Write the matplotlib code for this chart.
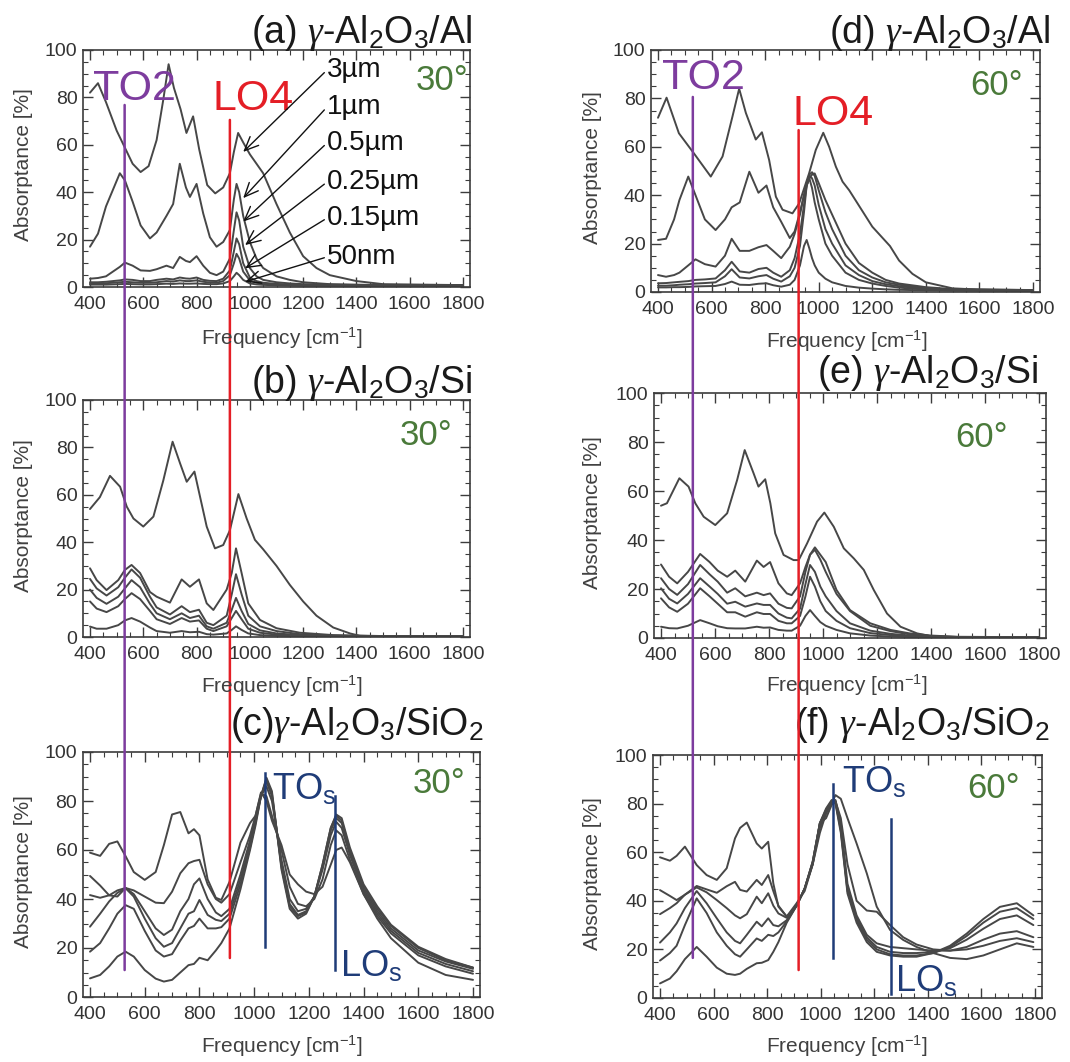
import matplotlib
matplotlib.use('Agg')
import matplotlib.pyplot as plt
from matplotlib.patches import ConnectionPatch
from matplotlib.transforms import blended_transform_factory
from matplotlib.ticker import MultipleLocator

plt.rcParams['font.family'] = ['Liberation Sans', 'DejaVu Sans']
plt.rcParams['mathtext.fontset'] = 'custom'
plt.rcParams['mathtext.rm'] = 'Liberation Sans'
plt.rcParams['mathtext.it'] = 'Liberation Serif:italic'
plt.rcParams['mathtext.bf'] = 'Liberation Sans:bold'

# ---------------- data ----------------
THICKNESS = ['3µm', '1µm', '0.5µm', '0.25µm', '0.15µm', '50nm']

# (a) gamma-Al2O3/Al, 30 deg
A_FREQ_THICK = [400, 430, 460, 500, 530, 560, 590, 620, 650, 675, 695, 715, 740, 762, 787, 810, 840, 870, 900, 925,
                940, 956, 975, 1000, 1025, 1050, 1100, 1150, 1200, 1250, 1300, 1400, 1500, 1800]
A_3UM = [82, 86, 78, 66, 59, 52, 48.5, 51, 62, 79, 94, 84, 75, 65, 72, 58, 43, 39.5, 42, 48,
         57, 65, 61, 56, 52, 48, 35, 23, 13, 8, 5, 2.5, 1.2, 0.8]
A_FREQ_THIN = [400, 430, 460, 512, 531, 560, 590, 625, 650, 687, 712, 737, 760, 775, 800, 825, 850, 875, 900, 925,
               940, 950, 960, 975, 1000, 1025, 1050, 1100, 1150, 1200, 1300, 1400, 1500, 1800]
A_1UM = [17, 22.5, 34, 48, 45, 36, 26, 20.5, 23, 30, 35, 52, 42, 38, 43.5, 31, 21, 17, 19, 24,
         37, 43.5, 40, 30, 19, 12, 8, 4.5, 3, 2, 1.2, 1, 0.8, 0.7]
A_05UM = [3.5, 3.8, 4.5, 8.5, 10.3, 9, 7, 6.8, 7.5, 9, 8, 12.7, 11, 10.5, 13, 9, 6, 5, 6.5, 12,
          24, 31.5, 28, 17, 8, 4.5, 3, 2, 1.5, 1.2, 1, 0.8, 0.7, 0.6]
A_025UM = [2, 2, 2.2, 2.8, 3.2, 3, 2.5, 2.5, 3, 3.5, 3.2, 4, 3.6, 3.5, 4, 3, 2.6, 2.5, 3.5, 7,
           15, 20.5, 18, 10, 4, 2.5, 1.8, 1.3, 1, 0.8, 0.7, 0.6, 0.6, 0.5]
A_015UM = [1.5, 1.5, 1.6, 2, 2.2, 2, 1.8, 1.8, 2, 2.5, 2.3, 2.8, 2.5, 2.5, 2.8, 2.2, 1.9, 1.8, 2.5, 5,
           10, 14, 12, 6.5, 2.8, 1.8, 1.3, 1, 0.8, 0.7, 0.6, 0.5, 0.5, 0.5]
A_50NM = [1, 1, 1, 1.2, 1.3, 1.2, 1.1, 1.1, 1.2, 1.4, 1.3, 1.5, 1.4, 1.4, 1.5, 1.3, 1.2, 1.2, 1.5, 2.5,
          4.5, 6, 5, 3, 1.5, 1.1, 0.9, 0.7, 0.6, 0.5, 0.5, 0.5, 0.5, 0.5]

# (b) gamma-Al2O3/Si, 30 deg
B_FREQ_THICK = [400, 437, 475, 513, 538, 563, 600, 638, 675, 710, 738, 763, 792, 813, 838, 869, 900, 925, 957, 988,
                1019, 1050, 1100, 1150, 1200, 1250, 1313, 1376, 1413, 1500, 1800]
B_3UM = [54, 59, 68, 63.4, 55, 50, 46.6, 50.8, 66, 82.4, 73.3, 65.5, 69.8, 59.2, 46.6, 37.4, 38.8, 45, 60.3, 50,
         41, 37, 30, 22, 15, 9, 4, 1.5, 0.5, 0.3, 0.3]
B_FREQ_THIN = [400, 425, 462, 506, 531, 556, 588, 625, 650, 700, 744, 775, 809, 838, 863, 913, 932, 948, 969, 994,
               1038, 1100, 1188, 1313, 1500, 1800]
B_1UM = [29, 24, 19.8, 24, 28.3, 30.4, 27, 19, 17, 14.5, 24.3, 21.2, 24.3, 14.2, 11.4, 20, 27, 37.4, 27, 14.2,
         7.2, 3.7, 1.8, 0.8, 0.4, 0.3]
B_05UM = [24.5, 20.5, 17.5, 21, 25, 28.5, 25, 17, 12.5, 9.5, 13, 10.5, 11.5, 6, 5, 9, 18, 26.5, 18, 9,
          4.5, 2.5, 1.2, 0.6, 0.3, 0.3]
B_025UM = [20, 16.5, 14, 17, 20.5, 24, 21, 14, 10, 7.5, 10, 8, 9, 4.5, 3.5, 6, 11.5, 16.5, 11, 5.5,
           2.8, 1.5, 0.8, 0.4, 0.3, 0.3]
B_015UM = [15, 12, 10.5, 13, 16, 18.5, 16, 11, 7.5, 5.5, 8, 6.5, 7, 3.5, 2.5, 4.5, 8, 11, 7.5, 3.5,
           1.8, 1, 0.6, 0.3, 0.3, 0.3]
B_50NM = [4.4, 3.5, 3.5, 5, 7, 8, 6.5, 4, 2.5, 1.8, 2.5, 2, 2.2, 1.2, 1, 1.5, 3, 4.5, 3, 1.5,
          0.8, 0.5, 0.4, 0.3, 0.3, 0.3]

# (c) gamma-Al2O3/SiO2, 30 deg
C_FREQ = [400, 437, 470, 500, 530, 560, 600, 640, 670, 700, 730, 760, 780, 800, 830, 860, 880, 910, 950, 985,
          1005, 1025, 1045, 1065, 1100, 1130, 1160, 1190, 1220, 1250, 1280, 1300, 1320, 1350, 1400, 1450, 1500,
          1600, 1700, 1800]
C_3UM = [58.9, 57.6, 62.5, 63.5, 57.5, 51, 47.8, 51, 62, 74.5, 75.5, 66.8, 68.5, 66, 48, 40.5, 39.6, 47, 63, 71,
         74, 83.5, 80, 72, 62, 50, 46, 43, 42, 45, 54, 60, 61, 55, 42, 32, 24, 14, 9, 7]
C_1UM = [49.4, 45.5, 41.5, 41, 44.5, 43.5, 41, 38.5, 38.3, 43, 50.5, 54.6, 55.5, 56, 46, 40, 38.5, 42, 55, 66,
         74, 83, 82, 74, 60, 45, 38, 37, 40, 48, 62, 68, 66, 56, 42, 33, 26, 17, 12.5, 9.5]
C_05UM = [41.6, 40.5, 41.5, 43.5, 44.5, 42, 35, 28, 25.3, 27.5, 35, 40, 46, 48.4, 40, 34.5, 33, 36, 50, 64,
          73, 82, 86, 80, 56, 40, 35, 36, 41, 52, 66, 71.5, 69, 58, 43, 34, 27, 18, 13.5, 10.5]
C_025UM = [28.7, 34, 39, 42.5, 44.4, 41, 32, 24, 20.5, 22, 28, 34, 35, 39.6, 33.5, 31.5, 31, 34, 48, 62,
           72, 82, 88, 82, 54, 38, 33.5, 35, 41, 53, 68, 73, 71, 59, 44, 35, 28, 19, 14.5, 11.5]
C_015UM = [18.5, 22, 28, 34, 37.5, 36, 27, 19, 16.5, 17.5, 23, 28, 29, 32, 28, 28, 28.5, 32, 46, 61,
           71, 82, 89, 83, 53, 37, 33, 34.5, 41, 54, 69, 74, 72, 60, 45, 36, 29, 20, 15, 12]
C_50NM = [7.6, 9, 12.5, 16.5, 18.5, 16.5, 11, 7.5, 6.3, 7, 10, 13, 13.5, 16, 15, 19, 22, 28, 44, 60,
          70, 82, 89.5, 84, 52, 36, 32, 34, 41, 54, 69, 74.5, 73, 61, 46, 37, 29.5, 20.5, 15.5, 12]

# (d) gamma-Al2O3/Al, 60 deg
D_FREQ_THICK = [400, 432, 478, 534, 597, 641, 678, 703, 728, 765, 788, 815, 840, 865, 902, 927, 964, 989, 1017, 1039,
                1064, 1089, 1114, 1145, 1200, 1266, 1300, 1350, 1400, 1500, 1600, 1800]
D_3UM = [72, 80.3, 65.6, 57.3, 47.7, 56, 72.5, 84, 74, 63, 66, 54.5, 39.4, 34, 32.5, 36.6, 49, 58.7, 65.8, 60,
         51.8, 45.6, 42, 36.6, 27, 19, 13, 7.5, 4, 1.5, 1, 0.8]
D_FREQ_THIN = [400, 430, 460, 480, 513, 540, 575, 615, 650, 675, 705, 741, 775, 805, 830, 860, 892, 910, 930, 945,
               955, 965, 975, 985, 1000, 1025, 1050, 1100, 1150, 1200, 1250, 1300, 1400, 1500, 1800]
D_1UM = [21.5, 22, 30, 38, 47.7, 40, 30, 25.6, 30, 35, 37, 49.7, 41, 44, 35, 29, 22.3, 25, 33, 40,
         44, 47, 48.5, 49, 45, 38, 32, 20, 12, 8, 5, 3.5, 2, 1.2, 0.8]
D_05UM = [7, 6.3, 7, 8, 11, 13.5, 11.5, 10.5, 15, 22, 17, 17, 18.5, 19.4, 17, 14, 18.7, 24, 32, 40,
          45, 48.5, 49.5, 48, 42, 33, 26, 15, 9, 6, 4, 3, 1.5, 1, 0.7]
D_025UM = [3.6, 3.7, 4, 4.2, 4.5, 5, 5.2, 5.6, 9, 12.5, 8.5, 8, 9.5, 10, 8, 6.3, 9, 14, 24, 36,
           44, 48, 47, 44, 36, 26, 20, 11, 7, 4.5, 3.2, 2.4, 1.3, 0.9, 0.6]
D_015UM = [2.6, 2.6, 2.8, 3, 3.2, 3.5, 3.7, 4, 6.5, 9.4, 6, 5.6, 6.5, 7, 5.5, 4.3, 6.5, 10, 19, 33,
           44, 47, 43, 37, 30, 20, 15, 8, 5, 3.5, 2.5, 1.8, 1, 0.7, 0.5]
D_50NM = [1.9, 1.9, 2, 2, 2.1, 2.3, 2.4, 2.5, 3.3, 4.3, 3, 2.9, 3.4, 3.6, 2.8, 2.2, 3, 5, 11, 19,
          21.5, 18, 14, 11, 8, 5.5, 4, 2.5, 1.8, 1.4, 1.1, 0.9, 0.7, 0.6, 0.5]

# (e) gamma-Al2O3/Si, 60 deg
E_FREQ_THICK = [400, 422, 468, 502, 527, 558, 601, 645, 682, 710, 743, 761, 786, 805, 823, 854, 891, 910, 941, 978,
                1005, 1040, 1077, 1114, 1151, 1188, 1237, 1287, 1348, 1410, 1500, 1800]
E_3UM = [54, 55, 65.2, 61.8, 55, 49.5, 46.1, 50.9, 64.5, 76.7, 67.2, 61.8, 64.8, 55, 42.7, 33.9, 31.8, 31.8, 38.6, 47.5,
         51.2, 45.4, 36.6, 32.5, 27.8, 19.6, 10, 4.6, 1.9, 0.5, 0.3, 0.3]
E_FREQ_THIN = [400, 430, 460, 500, 545, 580, 610, 645, 675, 712, 755, 780, 804, 835, 866, 884, 915, 935, 952, 970,
               990, 1010, 1050, 1100, 1175, 1250, 1320, 1400, 1500, 1800]
E_1UM = [30, 25, 22.3, 27, 34.3, 31, 27.5, 25, 27.5, 23, 31.6, 29, 31, 22.3, 18.2, 17.5, 22.3, 29, 34, 37,
         34, 31, 19.6, 11.4, 6, 3.3, 1.9, 1, 0.5, 0.3]
E_05UM = [24.4, 20, 17.6, 22, 29.8, 26, 23, 18.5, 20.3, 17, 18.5, 17.5, 18.2, 14, 12.3, 12.1, 17, 27, 34, 36,
          32, 27, 18, 11, 5, 2.8, 1.5, 0.8, 0.4, 0.3]
E_025UM = [20.3, 16, 14.1, 18, 24.4, 21, 18, 14, 14.8, 12.8, 14.1, 13.5, 13.5, 10, 8.3, 8, 12, 22, 29.8, 27,
           21, 17, 11, 6, 3, 1.7, 1, 0.6, 0.3, 0.3]
E_015UM = [16.2, 12.5, 10.7, 14, 20.3, 17, 14, 10.5, 10.5, 8.7, 10.5, 9.8, 9.8, 7, 6, 6, 9, 17, 25, 21,
           15, 11, 7, 4, 2, 1.2, 0.7, 0.4, 0.3, 0.3]
E_50NM = [4.6, 4, 3.9, 5, 7.3, 6, 4.8, 4, 3.9, 3.9, 4.6, 4.2, 4.3, 3.3, 3, 3, 5, 9, 11.4, 9,
          6.5, 5, 3.3, 1.9, 1, 0.6, 0.4, 0.3, 0.3, 0.3]

# (f) gamma-Al2O3/SiO2, 60 deg
F_FREQ = [400, 437, 462, 493, 537, 574, 612, 649, 680, 699, 724, 761, 780, 804, 823, 842, 873, 910, 940, 970,
          997, 1020, 1041, 1055, 1075, 1100, 1134, 1172, 1209, 1259, 1308, 1358, 1420, 1483, 1545, 1607, 1669,
          1732, 1794]
F_3UM = [57.9, 56.5, 58.5, 62.3, 54.7, 50.6, 48.6, 53.4, 65.7, 70, 72.2, 63.6, 61.5, 64.3, 47.2, 37.6, 33.5, 39, 44, 55,
         68, 76, 80, 83.5, 82, 74, 63.6, 51.3, 37.6, 28, 23.9, 21, 18.5, 16.5, 16, 17.5, 20, 22.5, 21]
F_1UM = [44.4, 42, 40.3, 42.5, 46.1, 44.7, 43.3, 46, 47.8, 44.5, 43.8, 48.6, 46.5, 50.6, 44, 38, 33.5, 38, 45, 55,
         72, 74, 79.5, 81, 74, 55, 40, 36, 35.5, 30, 25, 22, 20, 19.5, 20, 21.5, 23.5, 24.6, 23]
F_05UM = [34.5, 37, 39, 42.5, 45.5, 43.5, 40.3, 37, 34, 32.8, 34.5, 41.7, 39, 43.1, 38, 34.8, 33, 38, 45, 55,
          70, 76, 80.5, 81.5, 72, 47, 34, 26, 22.5, 21, 20.5, 20, 19.5, 19.5, 21, 24, 26.5, 27.5, 25]
F_025UM = [22.8, 27, 30.7, 37, 44, 39, 32.8, 27, 23.5, 22.5, 26, 31.4, 29.5, 32.8, 30, 29.5, 32, 38, 45, 56,
           72, 77, 81, 81, 70, 45, 33, 25, 21, 19, 18.5, 18.5, 19, 20.5, 24, 28.5, 32.5, 34, 30]
F_015UM = [15.4, 18.5, 21.5, 30, 41, 35, 27, 21.5, 18, 17, 20, 24.5, 23.5, 26, 25.5, 27, 31.5, 38, 45, 56,
           72, 77.5, 81, 80.5, 69, 44, 32, 24, 20, 18, 17.5, 17.5, 18.5, 21, 25.5, 31, 35.5, 37, 32.5]
F_50NM = [6, 8, 11, 16, 21, 17, 12.5, 10, 9.5, 10, 12, 14.3, 14.5, 15.6, 19, 23, 31, 38, 45, 56,
          72, 78, 81.5, 80, 68, 43, 31, 23, 19, 17.5, 17, 17, 18.5, 21.5, 26.5, 32.5, 37.5, 39, 34]

# mode positions (cm^-1)
TO2 = 530
LO4 = 925
TOS_30, LOS_30 = 1040, 1296
TOS_60, LOS_60 = 1046, 1262

# ---------------- figure ----------------
W, H = 1070, 1062
fig = plt.figure(figsize=(W / 100, H / 100), dpi=100)
fig.patch.set_facecolor('white')
XMIN, XMAX = 374, 1826

CURVE_C = '#474747'
FRAME_C = '#3c3c3c'
PURPLE = '#7d3c9e'
RED = '#e41e26'
GREEN = '#4a7a3a'
NAVY = '#1f3c78'


def add_panel(px0, px1, py0, py100):
    s = (px1 - px0) / 1400.0
    left = px0 - (400 - XMIN) * s
    right = px1 + (XMAX - 1800) * s
    ax = fig.add_axes([left / W, 1 - py0 / H, (right - left) / W, (py0 - py100) / H])
    ax.set_xlim(XMIN, XMAX)
    ax.set_ylim(0, 100)
    for sp in ax.spines.values():
        sp.set_color(FRAME_C)
        sp.set_linewidth(1.2)
    ax.xaxis.set_major_locator(MultipleLocator(200))
    ax.xaxis.set_minor_locator(MultipleLocator(50))
    ax.yaxis.set_major_locator(MultipleLocator(20))
    ax.yaxis.set_minor_locator(MultipleLocator(5))
    ax.tick_params(which='both', direction='in', top=True, right=True, colors=FRAME_C,
                   labelcolor='#333333', labelsize=14)
    ax.tick_params(which='major', length=7, width=1.0)
    ax.tick_params(which='minor', length=3.5, width=0.8)
    ax.tick_params(axis='x', pad=6.5)
    ax.tick_params(axis='y', pad=4)
    return ax


ax_a = add_panel(90, 463, 287, 50)
ax_b = add_panel(90, 463, 637, 400)
ax_c = add_panel(90, 473, 997, 752)
ax_d = add_panel(658, 1033, 292, 50)
ax_e = add_panel(661, 1039, 638, 393)
ax_f = add_panel(660, 1035, 998, 755)


def draw(ax, freq, ys):
    ax.plot(freq, ys, color=CURVE_C, lw=1.4, solid_joinstyle='round', solid_capstyle='round')


draw(ax_a, A_FREQ_THICK, A_3UM)
for ys in (A_1UM, A_05UM, A_025UM, A_015UM, A_50NM):
    draw(ax_a, A_FREQ_THIN, ys)
draw(ax_b, B_FREQ_THICK, B_3UM)
for ys in (B_1UM, B_05UM, B_025UM, B_015UM, B_50NM):
    draw(ax_b, B_FREQ_THIN, ys)
for ys in (C_3UM, C_1UM, C_05UM, C_025UM, C_015UM, C_50NM):
    draw(ax_c, C_FREQ, ys)
draw(ax_d, D_FREQ_THICK, D_3UM)
for ys in (D_1UM, D_05UM, D_025UM, D_015UM, D_50NM):
    draw(ax_d, D_FREQ_THIN, ys)
draw(ax_e, E_FREQ_THICK, E_3UM)
for ys in (E_1UM, E_05UM, E_025UM, E_015UM, E_50NM):
    draw(ax_e, E_FREQ_THIN, ys)
for ys in (F_3UM, F_1UM, F_05UM, F_025UM, F_015UM, F_50NM):
    draw(ax_f, F_FREQ, ys)

# titles
title_fs = 27
titles = [
    (ax_a, r'(a) $\gamma$-Al$_\mathrm{2}$O$_\mathrm{3}$/Al', 1.006, 1.03),
    (ax_b, r'(b) $\gamma$-Al$_\mathrm{2}$O$_\mathrm{3}$/Si', 1.006, 1.03),
    (ax_c, r'(c)$\gamma$-Al$_\mathrm{2}$O$_\mathrm{3}$/SiO$_\mathrm{2}$', 1.008, 1.069),
    (ax_d, r'(d) $\gamma$-Al$_\mathrm{2}$O$_\mathrm{3}$/Al', 1.026, 1.029),
    (ax_e, r'(e) $\gamma$-Al$_\mathrm{2}$O$_\mathrm{3}$/Si', 0.98, 1.04),
    (ax_f, r'(f) $\gamma$-Al$_\mathrm{2}$O$_\mathrm{3}$/SiO$_\mathrm{2}$', 1.02, 1.082),
]
for ax, t, x, y in titles:
    ax.text(x, y, t, transform=ax.transAxes, ha='right', va='baseline', fontsize=title_fs,
            color='#1a1a1a', clip_on=False)

# angle labels
for ax, t, x, y in [(ax_a, '30°', 1819, 83.1), (ax_b, '30°', 1762, 81), (ax_c, '30°', 1771, 83.3),
                    (ax_d, '60°', 1763, 81.4), (ax_e, '60°', 1685, 78), (ax_f, '60°', 1744, 82.3)]:
    ax.text(x, y, t, ha='right', va='baseline', fontsize=25, color=GREEN)

# TO2 / LO4 labels
ax_a.text(411, 78.9, 'TO2', ha='left', va='baseline', fontsize=31, color=PURPLE)
ax_a.text(858, 74.7, 'LO4', ha='left', va='baseline', fontsize=31, color=RED)
ax_d.text(415, 83.9, 'TO2', ha='left', va='baseline', fontsize=31, color=PURPLE)
ax_d.text(904, 69.0, 'LO4', ha='left', va='baseline', fontsize=31, color=RED)


# long vertical mode lines spanning the columns
def vline_across(ax_top, ax_bot, x, y_top, y_bot, color):
    tb = blended_transform_factory(ax_top.transData, ax_bot.transData)
    con = ConnectionPatch(xyA=(x, y_top), coordsA=ax_top.transData,
                          xyB=(x, y_bot), coordsB=tb,
                          color=color, lw=1.8, arrowstyle='-')
    fig.add_artist(con)


vline_across(ax_a, ax_c, TO2, 76.8, 11.0, PURPLE)
vline_across(ax_a, ax_c, LO4, 70.5, 15.9, RED)
vline_across(ax_d, ax_f, TO2, 80.6, 16.5, PURPLE)
vline_across(ax_d, ax_f, LO4, 66.9, 11.5, RED)

# SiO2 TO/LO lines and labels
ax_c.plot([TOS_30, TOS_30], [20.4, 91.4], color=NAVY, lw=1.8)
ax_c.plot([LOS_30, LOS_30], [11, 82], color=NAVY, lw=1.8)
ax_f.plot([TOS_60, TOS_60], [16.5, 88], color=NAVY, lw=1.8)
ax_f.plot([LOS_60, LOS_60], [1.6, 73.7], color=NAVY, lw=1.8)
ax_c.text(1065, 80.4, r'TO$_\mathrm{s}$', ha='left', va='baseline', fontsize=26, color=NAVY)
ax_c.text(1314, 8.2, r'LO$_\mathrm{s}$', ha='left', va='baseline', fontsize=26, color=NAVY)
ax_f.text(1079, 84.4, r'TO$_\mathrm{s}$', ha='left', va='baseline', fontsize=26, color=NAVY)
ax_f.text(1277, 2.5, r'LO$_\mathrm{s}$', ha='left', va='baseline', fontsize=26, color=NAVY)

# thickness annotations in (a)
label_y = [91.6, 76.0, 60.8, 44.3, 29.1, 12.7]
head_xy = [(975, 57), (975, 37.5), (975, 27.6), (982, 17.7), (982, 7.9), (982, 2.2)]
for lab, ly, (hx, hy) in zip(THICKNESS, label_y, head_xy):
    ax_a.annotate(lab, xy=(hx, hy), xytext=(1290, ly), textcoords='data', ha='left', va='center',
                  fontsize=20, color='#111111', annotation_clip=False,
                  arrowprops=dict(arrowstyle='->,head_length=0.5,head_width=0.22', color='#111111',
                                  lw=1.0, shrinkA=0, shrinkB=0, relpos=(0, 0.5)))

# axis labels
LBL_C = '#404040'
for px, py in [(24, 165), (24, 516), (24, 872), (593, 168), (593, 513), (593, 874)]:
    fig.text(px / W, 1 - py / H, 'Absorptance [%]', rotation=90, ha='center', va='center',
             fontsize=15, color=LBL_C)
for px, py in [(282, 345), (282, 693), (282, 1053), (847, 348), (847, 692), (847, 1053)]:
    fig.text(px / W, 1 - py / H, r'Frequency [cm$^{-1}$]', ha='center', va='baseline',
             fontsize=15, color=LBL_C)

fig.savefig('out.png', dpi=100, facecolor='white')
